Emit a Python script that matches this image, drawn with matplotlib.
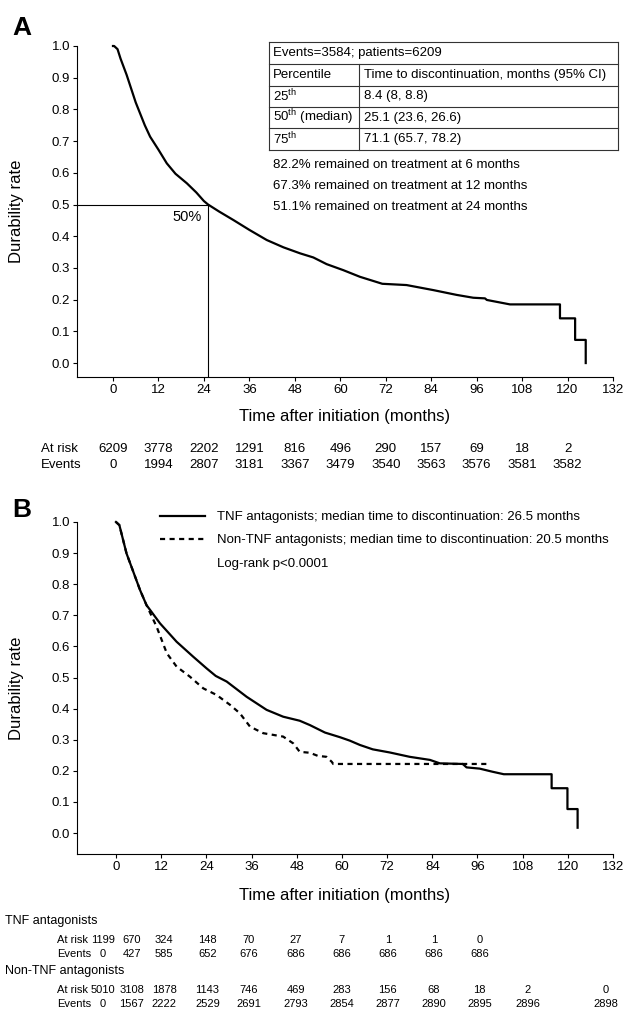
import matplotlib.pyplot as plt
import matplotlib.transforms as mtransforms
from matplotlib.lines import Line2D

plt.rcParams['font.family'] = ['Liberation Sans', 'DejaVu Sans']
plt.rcParams['mathtext.fontset'] = 'custom'
plt.rcParams['mathtext.rm'] = 'Liberation Sans'

W, H = 629, 1014

# -------------------------
# DATA
# -------------------------
x_ticks = list(range(0, 133, 12))
y_ticks = [i / 10 for i in range(11)]

# Panel A: overall durability curve
a_time = [0, 0.3, 1.2, 2.0, 3.6, 6.0, 8.4, 9.8, 12, 14.2, 16.5, 19.5, 22, 24, 25.1,
          28, 31.8, 36, 40.6, 45, 49.4, 52.9, 56.4, 60.8, 65.2, 71.1, 77.5, 84.6,
          90.7, 95.1, 98.2, 98.7, 104.8, 118, 118, 122, 122, 124.8, 124.8]
a_rate = [1.0, 1.0, 0.99, 0.96, 0.909, 0.822, 0.75, 0.714, 0.673, 0.63, 0.597, 0.567,
          0.538, 0.511, 0.5, 0.478, 0.451, 0.42, 0.388, 0.365, 0.346, 0.333, 0.312,
          0.293, 0.272, 0.25, 0.246, 0.23, 0.215, 0.206, 0.204, 0.199, 0.185, 0.185,
          0.141, 0.141, 0.073, 0.073, 0.0]
a_median = 25.1
a_at_risk = [6209, 3778, 2202, 1291, 816, 496, 290, 157, 69, 18, 2]
a_events = [0, 1994, 2807, 3181, 3367, 3479, 3540, 3563, 3576, 3581, 3582]

table_rows = [("Percentile", "Time to discontinuation, months (95% CI)"),
              ("25$^{\\mathrm{th}}$", "8.4 (8, 8.8)"),
              ("50$^{\\mathrm{th}}$ (median)", "25.1 (23.6, 26.6)"),
              ("75$^{\\mathrm{th}}$", "71.1 (65.7, 78.2)")]
table_head = "Events=3584; patients=6209"
notes = ["82.2% remained on treatment at 6 months",
         "67.3% remained on treatment at 12 months",
         "51.1% remained on treatment at 24 months"]

# Panel B: TNF vs non-TNF
tnf_time = [0, 0.9, 2.8, 6.4, 8.1, 11.7, 16.1, 20.5, 24.1, 26.5, 29.4, 34.7, 40, 44.4,
            48.8, 51.5, 55.5, 59.5, 62.1, 64.8, 68.2, 72.7, 78, 83.4, 86, 92.1, 93.1,
            96.6, 100, 103, 115.7, 115.7, 119.9, 119.9, 122.6, 122.6]
tnf_rate = [1.0, 0.99, 0.899, 0.781, 0.733, 0.674, 0.615, 0.567, 0.529, 0.505, 0.487,
            0.438, 0.396, 0.374, 0.361, 0.347, 0.323, 0.308, 0.297, 0.283, 0.269,
            0.259, 0.245, 0.235, 0.224, 0.222, 0.211, 0.207, 0.197, 0.189, 0.189,
            0.144, 0.144, 0.077, 0.077, 0.017]
non_time = [0, 0.9, 2.8, 6.4, 8.1, 10.8, 13.5, 16.1, 19.6, 23.2, 26.7, 30.3, 32.9, 35.6,
            39.1, 44.4, 47.1, 48.8, 51.5, 53.6, 55.9, 57.3, 57.7, 98.4]
non_rate = [1.0, 0.99, 0.899, 0.781, 0.733, 0.663, 0.578, 0.535, 0.503, 0.465, 0.444,
            0.412, 0.385, 0.342, 0.321, 0.31, 0.288, 0.261, 0.258, 0.248, 0.245, 0.229,
            0.222, 0.222]
tnf_label = "TNF antagonists; median time to discontinuation: 26.5 months"
non_label = "Non-TNF antagonists; median time to discontinuation: 20.5 months"
logrank = "Log-rank p<0.0001"

b_cols = [-3.4, 4.2, 12.8, 24.3, 35.3, 47.8, 59.9, 72.2, 84.4, 96.6, 109.3, 130.1]
tnf_at_risk = [1199, 670, 324, 148, 70, 27, 7, 1, 1, 0]
tnf_events = [0, 427, 585, 652, 676, 686, 686, 686, 686, 686]
non_at_risk = [5010, 3108, 1878, 1143, 746, 469, 283, 156, 68, 18, 2, 0]
non_events = [0, 1567, 2222, 2529, 2691, 2793, 2854, 2877, 2890, 2895, 2896, 2898]


def fy(y):
    return 1 - y / H


def px_axes(x0, y0, x1, y1):
    return [x0 / W, 1 - y1 / H, (x1 - x0) / W, (y1 - y0) / H]


def style_axes(ax, xmin, ymin, xlab_y):
    ax.set_xlim(xmin, 132)
    ax.set_ylim(ymin, 1.0)
    ax.set_xticks(x_ticks)
    ax.set_yticks(y_ticks)
    ax.set_yticklabels([f"{v:.1f}" for v in y_ticks])
    for s in ['top', 'right']:
        ax.spines[s].set_visible(False)
    for s in ['left', 'bottom']:
        ax.spines[s].set_linewidth(0.8)
    ax.tick_params(direction='out', length=3, width=0.8, labelsize=9.5, pad=2)
    ax.set_ylabel('Durability rate', fontsize=12)
    ax.set_xlabel('Time after initiation (months)', fontsize=12)
    ax.yaxis.set_label_coords(-0.099, 0.5)
    ax.xaxis.set_label_coords(0.5, xlab_y)


fig = plt.figure(figsize=(W / 100, H / 100), dpi=100)

# -------------------------
# PANEL A
# -------------------------
axA = fig.add_axes(px_axes(77, 46, 613, 377))
a_xmin, a_ymin = -9.5, -0.044
style_axes(axA, a_xmin, a_ymin, -0.097)
axA.plot(a_time, a_rate, color='black', lw=1.6, clip_on=False)
axA.plot([a_xmin, a_median], [0.5, 0.5], color='black', lw=0.8)
axA.plot([a_median, a_median], [a_ymin, 0.5], color='black', lw=0.8)
axA.text(23.5, 0.46, "50%", ha='right', va='center', fontsize=10.5)
fig.text(12 / W, fy(35), "A", fontsize=19, fontweight='bold', va='baseline')

# table
lines_y = [42, 64, 86, 107, 128, 150]
tx0, tx1, tdiv = 269, 618, 359
lc = '#333333'
for y in lines_y:
    fig.add_artist(Line2D([tx0 / W, tx1 / W], [fy(y), fy(y)], color=lc, lw=0.8))
fig.add_artist(Line2D([tx0 / W, tx0 / W], [fy(42), fy(150)], color=lc, lw=0.8))
fig.add_artist(Line2D([tx1 / W, tx1 / W], [fy(42), fy(150)], color=lc, lw=0.8))
fig.add_artist(Line2D([tdiv / W, tdiv / W], [fy(64), fy(150)], color=lc, lw=0.8))
fig.text(273 / W, fy((lines_y[0] + lines_y[1]) / 2), table_head, fontsize=9.5, va='center')
for i, (c1, c2) in enumerate(table_rows):
    yc = fy((lines_y[i + 1] + lines_y[i + 2]) / 2)
    fig.text(273 / W, yc, c1, fontsize=9.5, va='center')
    fig.text(364 / W, yc, c2, fontsize=9.5, va='center')
for i, n in enumerate(notes):
    fig.text(273 / W, fy(165 + 21 * i), n, fontsize=9.5, va='center')

# at-risk table
trA = mtransforms.blended_transform_factory(axA.transData, fig.transFigure)
fig.text(41 / W, fy(449), "At risk", fontsize=9.5, va='center')
fig.text(41 / W, fy(465), "Events", fontsize=9.5, va='center')
for t, r, e in zip(x_ticks, a_at_risk, a_events):
    axA.text(t, fy(449), str(r), transform=trA, ha='center', va='center', fontsize=9.5)
    axA.text(t, fy(465), str(e), transform=trA, ha='center', va='center', fontsize=9.5)

# -------------------------
# PANEL B
# -------------------------
axB = fig.add_axes(px_axes(77, 522, 613, 854))
b_xmin, b_ymin = -10.35, -0.0675
style_axes(axB, b_xmin, b_ymin, -0.102)
axB.plot(tnf_time, tnf_rate, color='black', lw=1.6, clip_on=False, label=tnf_label)
axB.plot(non_time, non_rate, color='black', lw=1.6, ls=(0, (2.3, 2)), clip_on=False,
         label=non_label)
handles, labels = axB.get_legend_handles_labels()
handles.append(Line2D([], [], color='none'))
labels.append(logrank)
axB.legend(handles, labels, loc='upper left', bbox_to_anchor=((160 - 77) / 536, (854 - 511) / 332),
           frameon=False, fontsize=9.5, handlelength=3.4, handletextpad=0.9,
           labelspacing=0.83, borderpad=0, borderaxespad=0)
fig.text(12 / W, fy(517), "B", fontsize=19, fontweight='bold', va='baseline')

trB = mtransforms.blended_transform_factory(axB.transData, fig.transFigure)
groups = [("TNF antagonists", tnf_at_risk, tnf_events, 921),
          ("Non-TNF antagonists", non_at_risk, non_events, 971)]
for name, risk, ev, y0 in groups:
    fig.text(5 / W, fy(y0), name, fontsize=9, va='center')
    fig.text(57 / W, fy(y0 + 19), "At risk", fontsize=8, va='center')
    fig.text(57 / W, fy(y0 + 33), "Events", fontsize=8, va='center')
    for c, r, e in zip(b_cols, risk, ev):
        axB.text(c, fy(y0 + 19), str(r), transform=trB, ha='center', va='center', fontsize=8)
        axB.text(c, fy(y0 + 33), str(e), transform=trB, ha='center', va='center', fontsize=8)

fig.savefig("out.png", dpi=100)
